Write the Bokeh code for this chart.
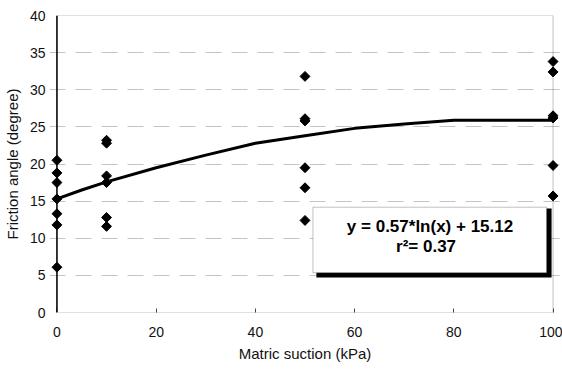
import math
from bokeh.plotting import figure
from bokeh.models import Range1d, FixedTicker, BoxAnnotation, Label, Span
from bokeh.embed import file_html
from bokeh.resources import INLINE

# measured data (matric suction kPa, friction angle degree)
suction_pts = [0, 0, 0, 0, 0, 0, 0,
               10, 10, 10, 10, 10, 10,
               50, 50, 50, 50, 50, 50,
               100, 100, 100, 100, 100, 100]
friction_pts = [20.5, 18.8, 17.5, 15.3, 13.3, 11.8, 6.1,
                23.2, 22.8, 18.4, 17.5, 12.8, 11.6,
                31.8, 26.1, 25.8, 19.5, 16.8, 12.4,
                33.8, 32.4, 26.5, 26.2, 19.8, 15.7]

# fitted curve as drawn
curve_x = [0, 5, 10, 20, 30, 40, 50, 60, 70, 80, 90, 100]
curve_y = [15.3, 16.5, 17.6, 19.5, 21.2, 22.8, 23.8, 24.8, 25.4, 25.9, 25.9, 25.9]

x_ticks = [0, 20, 40, 60, 80, 100]
y_ticks = [0, 5, 10, 15, 20, 25, 30, 35, 40]
grid_levels = [5, 10, 15, 20, 25, 30, 35]

FONT = "Liberation Sans"

p = figure(width=562, height=370, output_backend="svg", toolbar_location=None,
           x_range=Range1d(-1.5, 101.5), y_range=Range1d(0, 40),
           min_border_left=47, min_border_right=2, min_border_top=15, min_border_bottom=58)

p.outline_line_color = None
p.background_fill_color = "white"
p.border_fill_color = "white"

p.xgrid.visible = False
p.ygrid.ticker = FixedTicker(ticks=grid_levels)
p.ygrid.grid_line_color = "#c4c4c4"
p.ygrid.grid_line_dash = "16 10"
p.ygrid.grid_line_width = 1

p.xaxis.ticker = FixedTicker(ticks=x_ticks)
p.yaxis.ticker = FixedTicker(ticks=y_ticks)
for ax in (p.xaxis, p.yaxis):
    ax.axis_line_color = None
    ax.major_tick_out = 0
    ax.minor_tick_line_color = None
    ax.major_label_text_font = FONT
    ax.major_label_text_font_size = "14px"
    ax.major_label_text_color = "#111111"
    ax.axis_label_text_font = FONT
    ax.axis_label_text_font_size = "15px"
    ax.axis_label_text_font_style = "normal"
    ax.axis_label_text_color = "#111111"

p.xaxis.major_tick_in = 4
p.xaxis.major_tick_line_color = "#444444"
p.yaxis.major_tick_in = 0
p.yaxis.major_tick_line_color = None

p.xaxis.axis_label = "Matric suction (kPa)"
p.yaxis.axis_label = "Friction angle (degree)"
p.xaxis.major_label_standoff = 14
p.xaxis.axis_label_standoff = 5
p.yaxis.major_label_standoff = 4
p.yaxis.axis_label_standoff = 6

# plot frame (axes box from 0..100, 0..40)
frame = BoxAnnotation(left=0, right=100, bottom=0, top=40, fill_alpha=0,
                      line_color="#333333", line_width=1, level="underlay")
p.add_layout(frame)
p.add_layout(Span(location=0, dimension="height", line_color="black", line_width=1.5))

p.line(curve_x, curve_y, line_color="black", line_width=3)
p.scatter(suction_pts, friction_pts, marker="square", size=7, angle=math.pi / 4,
          color="black")

# equation box with shadow
shadow = BoxAnnotation(left=52.3, right=99.7, top=14.0, bottom=4.7,
                       fill_color="black", fill_alpha=1, line_color=None)
box = BoxAnnotation(left=51.6, right=98.7, top=14.18, bottom=5.35,
                    fill_color="white", fill_alpha=1, line_color="#333333", line_width=1)
p.add_layout(shadow)
p.add_layout(box)

eq1 = Label(x=75.2, y=11.58, text="y = 0.57*ln(x) + 15.12", text_align="center",
            text_baseline="middle", text_font=FONT, text_font_size="17px",
            text_font_style="bold", text_color="black")
eq2 = Label(x=74.4, y=8.89, text="r²= 0.37", text_align="center",
            text_baseline="middle", text_font=FONT, text_font_size="17px",
            text_font_style="bold", text_color="black")
p.add_layout(eq1)
p.add_layout(eq2)

open("out.html", "w").write(file_html(p, INLINE))
